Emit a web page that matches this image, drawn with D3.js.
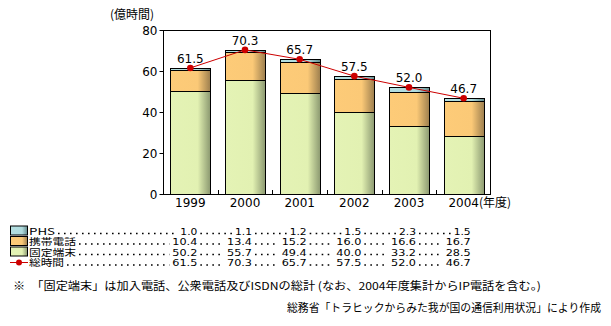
<!DOCTYPE html>
<html><head><meta charset="utf-8">
<script src="https://cdn.jsdelivr.net/npm/d3@7"></script>
<style>
html,body{margin:0;padding:0;background:#fff;}
svg{display:block;}
text{font-family:"Noto Sans CJK JP","DejaVu Sans",sans-serif;font-size:12px;fill:#000;}
</style></head>
<body>
<svg id="chart" width="611" height="326"></svg>
<script>
const years = ["1999","2000","2001","2002","2003","2004"];
const phs = [1.0, 1.1, 1.2, 1.5, 2.3, 1.5];
const mobile = [10.4, 13.4, 15.2, 16.0, 16.6, 16.7];
const fixed = [50.2, 55.7, 49.4, 40.0, 33.2, 28.5];
const total = [61.5, 70.3, 65.7, 57.5, 52.0, 46.7];
const yTicks = [0, 20, 40, 60, 80];
const seriesNames = ["PHS", "携帯電話", "固定端末", "総時間"];
const unitLabel = "(億時間)";
const yearSuffix = "(年度)";
const note1 = "※　「固定端末」は加入電話、公衆電話及びISDNの総計 (なお、2004年度集計からIP電話を含む。)";
const note2 = "総務省「トラヒックからみた我が国の通信利用状況」により作成";

const svg = d3.select("#chart");
const L = 163, R = 491, T = 30, B = 194;
const x = d3.scaleBand().domain(years).range([L, R]).paddingInner(0.27).paddingOuter(0.135);
const y = d3.scaleLinear().domain([0, 80]).range([B, T]);
const NUMF = "'DejaVu Sans',sans-serif";

// gradients
const defs = svg.append("defs");
const cols = {
  fixed: ["#E4F3B5", "#E2F1B2", "#8B9870"],
  mobile: ["#FDCB78", "#FBC977", "#9C7E4E"],
  phs: ["#B4DFE1", "#B0DCDE", "#658A8C"]
};
Object.entries(cols).forEach(([k, c]) => {
  const g = defs.append("linearGradient").attr("id", "g_" + k).attr("x1", "0").attr("x2", "1").attr("y1", "0").attr("y2", "0");
  g.append("stop").attr("offset", "0%").attr("stop-color", c[0]);
  g.append("stop").attr("offset", "68%").attr("stop-color", c[1]);
  g.append("stop").attr("offset", "100%").attr("stop-color", c[2]);
});

// frame
svg.append("rect").attr("x", L + 0.5).attr("y", T + 0.5).attr("width", R - L - 1).attr("height", B - T)
  .attr("fill", "none").attr("stroke", "#000").attr("stroke-width", 1);

// y axis
const yAxis = svg.append("g").attr("transform", `translate(${L + 0.5},0)`)
  .call(d3.axisLeft(y).tickValues(yTicks).tickSize(4).tickPadding(2));
yAxis.select(".domain").remove();
yAxis.selectAll("text").style("font-family", NUMF).style("font-size", "12px").attr("dy", "0.36em");
yAxis.selectAll("line").attr("stroke", "#000");

// x axis
const xAxis = svg.append("g").attr("transform", `translate(0,${B + 0.5})`)
  .call(d3.axisBottom(x).tickSize(0).tickPadding(4));
xAxis.select(".domain").remove();
xAxis.selectAll("text").style("font-family", NUMF).style("font-size", "12px");
// inner ticks between bands
const step = x.step();
years.slice(1).forEach((yr) => {
  const bx = Math.round(x(yr) - (step - x.bandwidth()) / 2) + 0.5;
  svg.append("line").attr("x1", bx).attr("x2", bx).attr("y1", B).attr("y2", B - 4).attr("stroke", "#000");
});
// suffix on last
const lastNode = xAxis.selectAll("text").filter(d => d === years[years.length - 1]).node();
const lw = lastNode.getComputedTextLength();
svg.append("text").attr("x", x(years[5]) + x.bandwidth() / 2 + lw / 2)
  .attr("y", B + 13).text(yearSuffix).style("font-size", "12px");

// unit label
svg.append("text").attr("x", 110).attr("y", 19).text(unitLabel);

// bars
const stackData = years.map((yr, i) => ({year: yr, fixed: fixed[i], mobile: mobile[i], phs: phs[i]}));
const stack = d3.stack().keys(["fixed", "mobile", "phs"])(stackData);
stack.forEach(layer => {
  svg.append("g").selectAll("rect").data(layer).join("rect")
    .attr("x", d => Math.round(x(d.data.year)) + 0.5)
    .attr("width", Math.round(x.bandwidth()))
    .attr("y", d => Math.round(y(d[1])) + 0.5)
    .attr("height", d => Math.round(y(d[0])) - Math.round(y(d[1])))
    .attr("fill", `url(#g_${layer.key})`)
    .attr("stroke", "#000").attr("stroke-width", 1);
});

// total line
const cx = d => x(d) + x.bandwidth() / 2;
const line = d3.line().x((d, i) => cx(years[i])).y(d => y(d));
svg.append("path").attr("d", line(total)).attr("fill", "none").attr("stroke", "#CC0000").attr("stroke-width", 1);
svg.append("g").selectAll("circle").data(total).join("circle")
  .attr("cx", (d, i) => cx(years[i])).attr("cy", d => y(d)).attr("r", 3.3).attr("fill", "#CC0000");
svg.append("g").selectAll("text").data(total).join("text")
  .attr("x", (d, i) => cx(years[i])).attr("y", d => y(d) - 5)
  .attr("text-anchor", "middle").style("font-family", NUMF).style("font-size", "12px")
  .text(d => d.toFixed(1));

// legend table
const rowsY = [230.5, 241, 251.5, 262];
const tableVals = [phs, mobile, fixed, total];
const swatchKeys = ["phs", "mobile", "fixed"];
const labelW = [26, 47, 47, 35];
const dotLine = (x1, x2, yy) => {
  if (x2 - x1 < 2) return;
  svg.append("line").attr("x1", x1).attr("x2", x2).attr("y1", yy + 3).attr("y2", yy + 3)
    .attr("stroke", "#000").attr("stroke-width", 1.6).attr("stroke-dasharray", "1.6,4.4");
};
seriesNames.forEach((name, r) => {
  const yy = rowsY[r];
  if (r < 3) {
    svg.append("rect").attr("x", 10.5).attr("y", yy - 4.5).attr("width", 17).attr("height", 9)
      .attr("fill", `url(#g_${swatchKeys[r]})`).attr("stroke", "#000");
  } else {
    svg.append("line").attr("x1", 10).attr("x2", 28).attr("y1", yy + 0.5).attr("y2", yy + 0.5).attr("stroke", "#CC0000");
    svg.append("circle").attr("cx", 19).attr("cy", yy + 0.5).attr("r", 3).attr("fill", "#CC0000");
  }
  svg.append("text").attr("x", 29).attr("y", yy + 4).style("font-size", "9.5px")
    .attr("textLength", labelW[r]).attr("lengthAdjust", "spacingAndGlyphs").text(name);
  let prevEnd = 29 + labelW[r] + 2;
  tableVals[r].forEach((v, i) => {
    const s = v.toFixed(1);
    const w = s.length === 3 ? 17 : 25;
    const xr = cx(years[i]) + 7;
    svg.append("text").attr("x", xr - w).attr("y", yy + 4)
      .style("font-family", NUMF).style("font-size", "9.5px")
      .attr("textLength", w).attr("lengthAdjust", "spacingAndGlyphs").text(s);
    dotLine(prevEnd + 1, xr - w - 3, yy);
    prevEnd = xr + 2;
  });
});

// notes
svg.append("text").attr("x", 13).attr("y", 290).style("font-size", "11px")
  .attr("textLength", 528).attr("lengthAdjust", "spacingAndGlyphs").text(note1);
svg.append("text").attr("x", 287).attr("y", 312).style("font-size", "11px")
  .attr("textLength", 314).attr("lengthAdjust", "spacingAndGlyphs").text(note2);
</script>
</body></html>
